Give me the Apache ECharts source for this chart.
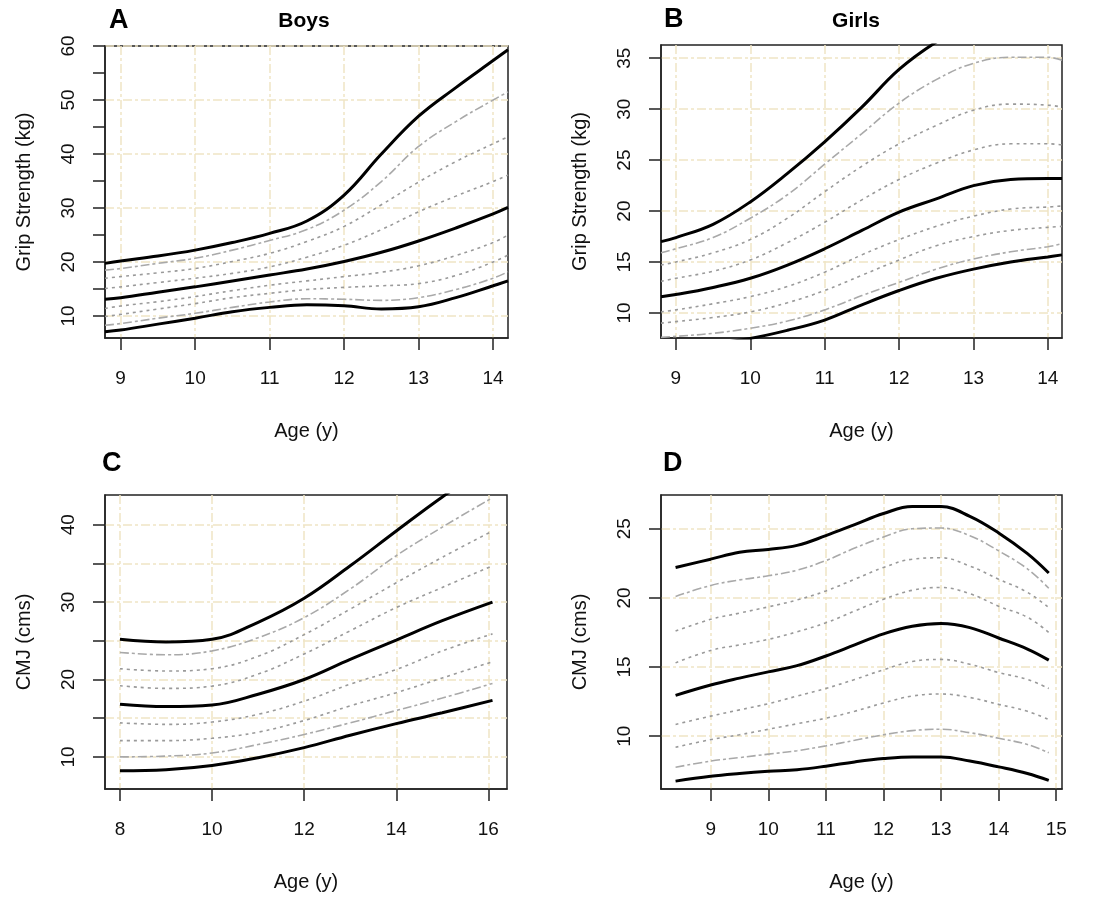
<!DOCTYPE html>
<html>
<head>
<meta charset="utf-8">
<title>Grip strength and CMJ centiles</title>
<script src="https://cdn.jsdelivr.net/npm/echarts@6/dist/echarts.min.js"></script>
<style>
html, body { margin: 0; padding: 0; background: #fff; }
#main { width: 1105px; height: 902px; }
</style>
</head>
<body>
<div id="main"></div>
<script>
// A - boys, grip strength (kg)
var ageA = [8.79, 9, 9.5, 10, 10.5, 11, 11.5, 12, 12.5, 13, 13.5, 14, 14.2];
var gripBoysP97 = [19.75, 20.2, 21.1, 22.2, 23.6, 25.3, 27.6, 32.4, 40.0, 47.0, 52.3, 57.3, 59.3];
var gripBoysP95 = [18.5, 18.8, 19.75, 20.7, 22.2, 24.0, 26.0, 29.6, 34.9, 41.4, 46.0, 50.0, 51.5];
var gripBoysP90 = [17.0, 17.3, 18.0, 18.8, 20.1, 21.6, 23.8, 26.6, 30.6, 34.8, 38.6, 41.9, 43.2];
var gripBoysP75 = [15.1, 15.4, 16.2, 17.0, 17.9, 19.1, 20.9, 23.1, 26.0, 29.3, 32.2, 34.9, 36.1];
var gripBoysP50 = [13.1, 13.4, 14.4, 15.4, 16.5, 17.6, 18.7, 20.1, 21.8, 23.9, 26.3, 28.9, 30.1];
var gripBoysP25 = [11.4, 11.85, 12.65, 13.6, 14.7, 15.7, 16.5, 17.3, 18.1, 19.3, 21.2, 23.6, 25.0];
var gripBoysP10 = [9.9, 10.3, 11.3, 12.3, 13.4, 14.2, 14.9, 15.3, 15.6, 16.0, 17.5, 20.0, 21.3];
var gripBoysP5  = [8.3, 8.6, 9.6, 10.5, 11.6, 12.6, 13.2, 13.1, 12.9, 13.4, 14.9, 17.0, 18.2];
var gripBoysP3  = [7.1, 7.4, 8.5, 9.6, 10.8, 11.6, 12.1, 11.9, 11.3, 11.7, 13.4, 15.6, 16.5];

// B - girls, grip strength (kg)
var ageB = [8.8, 9, 9.5, 10, 10.5, 11, 11.5, 12, 12.5, 13, 13.5, 14, 14.19];
var gripGirlsP97 = [17.0, 17.4, 18.7, 20.9, 23.7, 26.8, 30.2, 33.9, 36.6, 38.6, 40.2, 41.2, 41.4];
var gripGirlsP95 = [15.9, 16.3, 17.4, 19.3, 21.6, 24.6, 27.6, 30.6, 32.9, 34.5, 35.1, 35.1, 34.8];
var gripGirlsP90 = [14.7, 15.0, 15.9, 17.2, 19.3, 21.9, 24.4, 26.6, 28.4, 29.9, 30.5, 30.4, 30.2];
var gripGirlsP75 = [13.1, 13.4, 14.1, 15.2, 16.9, 18.9, 21.1, 23.1, 24.7, 26.0, 26.6, 26.6, 26.5];
var gripGirlsP50 = [11.6, 11.8, 12.5, 13.4, 14.7, 16.3, 18.1, 19.9, 21.2, 22.5, 23.1, 23.2, 23.2];
var gripGirlsP25 = [10.1, 10.3, 10.9, 11.6, 12.6, 14.0, 15.7, 17.2, 18.5, 19.5, 20.2, 20.4, 20.5];
var gripGirlsP10 = [9.0, 9.15, 9.55, 10.1, 11.0, 12.2, 13.7, 15.2, 16.6, 17.5, 18.1, 18.4, 18.5];
var gripGirlsP5  = [7.6, 7.7, 8.0, 8.5, 9.2, 10.3, 11.7, 13.0, 14.3, 15.3, 16.0, 16.5, 16.8];
var gripGirlsP3  = [6.6, 6.7, 7.0, 7.5, 8.3, 9.3, 10.8, 12.2, 13.4, 14.3, 15.0, 15.5, 15.7];

// C - boys, CMJ (cms)
var ageC = [8, 9, 10, 11, 12, 13, 14, 15, 16.09];
var cmjBoysP97 = [25.2, 24.85, 25.2, 27.4, 30.5, 34.7, 39.2, 43.6, 48.0];
var cmjBoysP95 = [23.5, 23.2, 23.7, 25.4, 28.0, 31.7, 36.0, 39.7, 43.5];
var cmjBoysP90 = [21.4, 21.1, 21.4, 23.0, 25.8, 29.1, 32.5, 35.8, 39.2];
var cmjBoysP75 = [19.2, 18.85, 19.15, 20.7, 23.3, 26.3, 29.3, 31.9, 34.7];
var cmjBoysP50 = [16.8, 16.5, 16.7, 18.1, 20.0, 22.6, 25.1, 27.6, 30.0];
var cmjBoysP25 = [14.4, 14.2, 14.5, 15.5, 17.2, 19.4, 21.3, 23.7, 25.9];
var cmjBoysP10 = [12.1, 12.1, 12.4, 13.2, 14.7, 16.6, 18.3, 20.2, 22.3];
var cmjBoysP5  = [10.0, 10.1, 10.5, 11.6, 12.9, 14.4, 16.0, 17.6, 19.5];
var cmjBoysP3  = [8.2, 8.35, 8.9, 9.9, 11.2, 12.8, 14.3, 15.7, 17.3];

// D - girls, CMJ (cms)
var ageD = [8.39, 9, 9.5, 10, 10.5, 11, 11.5, 12, 12.5, 13, 13.5, 14, 14.5, 14.87];
var cmjGirlsP97 = [22.2, 22.8, 23.3, 23.5, 23.8, 24.5, 25.3, 26.1, 26.6, 26.6, 25.9, 24.7, 23.2, 21.8];
var cmjGirlsP95 = [20.1, 20.9, 21.3, 21.6, 22.0, 22.7, 23.6, 24.4, 25.0, 25.05, 24.5, 23.4, 22.1, 20.7];
var cmjGirlsP90 = [17.6, 18.45, 18.9, 19.35, 19.85, 20.5, 21.35, 22.2, 22.8, 22.9, 22.3, 21.35, 20.4, 19.3];
var cmjGirlsP75 = [15.3, 16.2, 16.6, 17.0, 17.55, 18.2, 19.05, 19.9, 20.55, 20.75, 20.3, 19.4, 18.6, 17.5];
var cmjGirlsP50 = [12.95, 13.7, 14.2, 14.65, 15.1, 15.8, 16.6, 17.4, 17.95, 18.15, 17.85, 17.1, 16.3, 15.5];
var cmjGirlsP25 = [10.85, 11.45, 11.9, 12.35, 12.9, 13.45, 14.1, 14.8, 15.4, 15.55, 15.2, 14.6, 14.1, 13.45];
var cmjGirlsP10 = [9.2, 9.75, 10.1, 10.5, 10.9, 11.3, 11.8, 12.4, 12.9, 13.05, 12.8, 12.3, 11.8, 11.2];
var cmjGirlsP5  = [7.75, 8.2, 8.45, 8.7, 8.95, 9.3, 9.7, 10.1, 10.4, 10.5, 10.25, 9.85, 9.4, 8.8];
var cmjGirlsP3  = [6.75, 7.1, 7.3, 7.46, 7.58, 7.83, 8.14, 8.38, 8.5, 8.5, 8.2, 7.78, 7.3, 6.8];

// ticks, labels and grid positions
var xTicksA = [9, 10, 11, 12, 13, 14];
var yTicksA = [10, 15, 20, 25, 30, 35, 40, 45, 50, 55, 60];
var yLabelsA = [10, 20, 30, 40, 50, 60];
var xTicksB = [9, 10, 11, 12, 13, 14];
var yTicksB = [10, 15, 20, 25, 30, 35];
var xTicksC = [8, 10, 12, 14, 16];
var yTicksC = [10, 15, 20, 25, 30, 35, 40];
var yLabelsC = [10, 20, 30, 40];
var xTicksD = [9, 10, 11, 12, 13, 14, 15];
var yTicksD = [10, 15, 20, 25];

var FONT = 'Liberation Sans, Arial, Helvetica, sans-serif';
var styles = {
    solid: { color: '#000', width: 3, type: 'solid' },
    dash:  { color: '#a9a9a9', width: 1.6, type: [9, 3, 3, 3] },
    dot:   { color: '#9a9a9a', width: 1.6, type: [3, 4] }
};
var order = ['solid', 'dash', 'dot', 'dot', 'solid', 'dot', 'dot', 'dash', 'solid'];
var gridLine = { color: '#efe5c5', width: 1.5, type: [9, 3, 3, 3] };

var panels = [
    { box: [105, 46, 403, 292], x: [8.79, 14.2], y: [5.93, 60], xTicks: xTicksA, xLabels: xTicksA, xGrid: xTicksA,
      yTicks: yTicksA, yLabels: yLabelsA, yGrid: yLabelsA, yName: 'Grip Strength (kg)', age: ageA,
      curves: [gripBoysP97, gripBoysP95, gripBoysP90, gripBoysP75, gripBoysP50, gripBoysP25, gripBoysP10, gripBoysP5, gripBoysP3] },
    { box: [661, 45, 401, 293], x: [8.8, 14.19], y: [7.54, 36.3], xTicks: xTicksB, xLabels: xTicksB, xGrid: xTicksB,
      yTicks: yTicksB, yLabels: yTicksB, yGrid: yTicksB, yName: 'Grip Strength (kg)', age: ageB,
      curves: [gripGirlsP97, gripGirlsP95, gripGirlsP90, gripGirlsP75, gripGirlsP50, gripGirlsP25, gripGirlsP10, gripGirlsP5, gripGirlsP3] },
    { box: [105, 495, 402, 294], x: [7.675, 16.405], y: [5.85, 43.85], xTicks: xTicksC, xLabels: xTicksC, xGrid: xTicksC,
      yTicks: yTicksC, yLabels: yLabelsC, yGrid: yTicksC, yName: 'CMJ (cms)', age: ageC,
      curves: [cmjBoysP97, cmjBoysP95, cmjBoysP90, cmjBoysP75, cmjBoysP50, cmjBoysP25, cmjBoysP10, cmjBoysP5, cmjBoysP3] },
    { box: [661, 495, 401, 294], x: [8.137, 15.1], y: [6.18, 27.44], xTicks: xTicksD, xLabels: xTicksD, xGrid: xTicksD,
      yTicks: yTicksD, yLabels: yTicksD, yGrid: yTicksD, yName: 'CMJ (cms)', age: ageD,
      curves: [cmjGirlsP97, cmjGirlsP95, cmjGirlsP90, cmjGirlsP75, cmjGirlsP50, cmjGirlsP25, cmjGirlsP10, cmjGirlsP5, cmjGirlsP3] }
];

var grids = [], xAxes = [], yAxes = [], series = [];
var axisColor = { color: '#222', width: 1.5 };

panels.forEach(function (p, i) {
    grids.push({
        left: p.box[0], top: p.box[1], width: p.box[2], height: p.box[3],
        show: true, borderColor: '#222', borderWidth: 1.5, backgroundColor: 'rgba(0,0,0,0)'
    });
    // main axes with ticks and labels
    xAxes.push({
        gridIndex: i, type: 'value', min: p.x[0], max: p.x[1], position: 'bottom',
        name: 'Age (y)', nameLocation: 'middle', nameGap: 83,
        nameTextStyle: { fontSize: 20, color: '#111', fontFamily: FONT },
        axisLine: { show: true, onZero: false, lineStyle: axisColor },
        axisTick: { show: true, length: 12, customValues: p.xTicks, lineStyle: axisColor },
        axisLabel: { customValues: p.xLabels, margin: 31, fontSize: 19, color: '#111', fontFamily: FONT },
        splitLine: { show: false }
    });
    yAxes.push({
        gridIndex: i, type: 'value', min: p.y[0], max: p.y[1], position: 'left',
        name: p.yName, nameLocation: 'middle', nameGap: 71,
        nameTextStyle: { fontSize: 20, color: '#111', fontFamily: FONT },
        axisLine: { show: true, onZero: false, lineStyle: axisColor },
        axisTick: { show: true, length: 12, customValues: p.yTicks, lineStyle: axisColor },
        axisLabel: { customValues: p.yLabels, rotate: 90, margin: 27, fontSize: 19, color: '#111', fontFamily: FONT },
        splitLine: { show: false }
    });
    // helper axes, only for the dashed grid
    xAxes.push({
        gridIndex: i, type: 'value', min: p.x[0], max: p.x[1], position: 'top',
        axisLine: { show: false }, axisTick: { show: false, customValues: p.xGrid }, axisLabel: { show: false },
        splitLine: { show: true, lineStyle: gridLine }
    });
    yAxes.push({
        gridIndex: i, type: 'value', min: p.y[0], max: p.y[1], position: 'right',
        axisLine: { show: false }, axisTick: { show: false, customValues: p.yGrid }, axisLabel: { show: false },
        splitLine: { show: true, lineStyle: gridLine }
    });

    p.curves.forEach(function (vals, k) {
        var kind = order[k];
        series.push({
            type: 'line',
            xAxisIndex: i * 2, yAxisIndex: i * 2,
            data: p.age.map(function (a, j) { return [a, vals[j]]; }),
            showSymbol: false, smooth: 0.4, silent: true,
            lineStyle: styles[kind],
            z: kind === 'solid' ? 4 : 3
        });
    });
});

function label(text, x, y, size, align) {
    return {
        type: 'text', x: x, y: y,
        style: { text: text, fill: '#000', font: 'bold ' + size + 'px ' + FONT, textAlign: align, textVerticalAlign: 'middle' }
    };
}

var myChart = echarts.init(document.getElementById('main'));
var option = {
    backgroundColor: '#fff',
    animation: false,
    grid: grids,
    xAxis: xAxes,
    yAxis: yAxes,
    series: series,
    graphic: [
        label('A', 109, 21, 27, 'left'),
        label('Boys', 304, 21, 21, 'center'),
        label('B', 664, 20, 27, 'left'),
        label('Girls', 856, 21, 21, 'center'),
        label('C', 102, 464, 27, 'left'),
        label('D', 663, 464, 27, 'left')
    ]
};
myChart.setOption(option);
</script>
</body>
</html>
